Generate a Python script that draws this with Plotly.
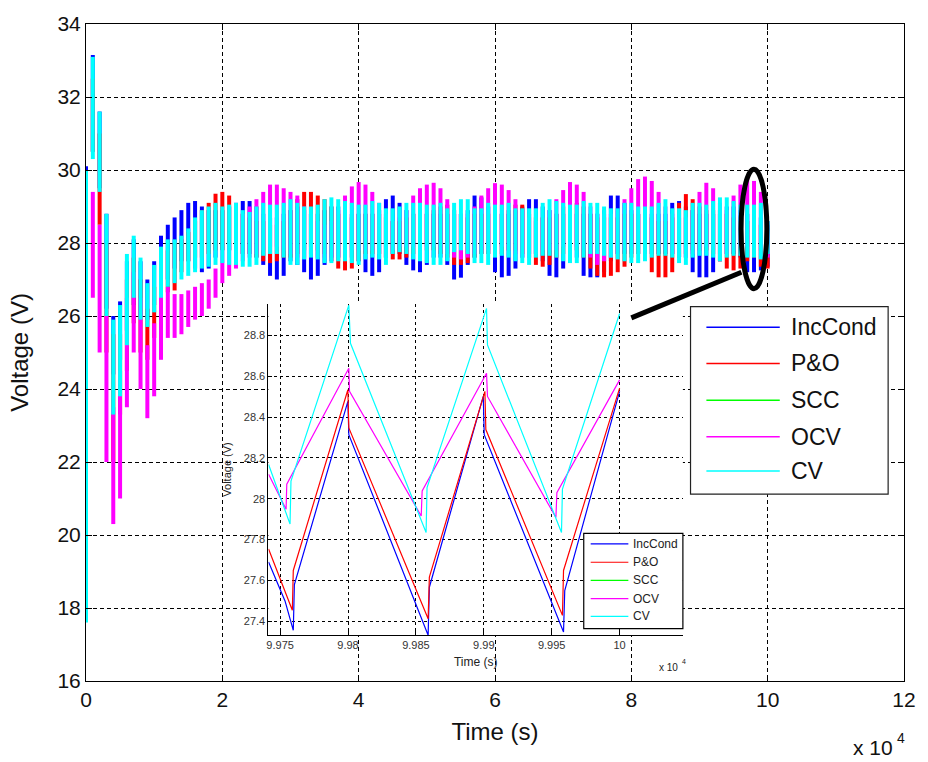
import plotly.graph_objects as go

# ---------------- data ----------------
# main plot: time windows (s), and per-window min / max of each signal (V)
t_main = [k * 1000 for k in range(101)]

cv_hi = [30.0, 33.1, 31.6, 28.8, 25.9, 26.3, 27.7, 28.2, 27.6, 26.9,
         27.4, 27.9, 28.1, 28.1, 28.2, 28.4, 28.7, 28.9, 29.0, 29.1,
         29.0, 29.05, 29.1, 28.9, 28.85, 29.0, 29.1, 29.05, 29.05, 29.1,
         29.2, 29.1, 29.0, 29.0, 29.05, 29.2, 29.25, 29.2, 29.15, 29.1,
         29.05, 29.05, 29.15, 29.1, 28.95, 28.95, 29.0, 29.1, 29.1, 29.1,
         29.05, 29.05, 29.1, 28.95, 29.1, 29.2, 29.2, 28.95, 28.95, 29.1,
         29.05, 29.05, 29.1, 28.95, 28.95, 28.95, 28.95, 29.1, 29.2, 29.15,
         29.1, 29.05, 29.05, 29.15, 29.1, 29.1, 29.0, 28.95, 28.95, 29.1,
         29.1, 29.0, 29.0, 29.0, 29.1, 29.2, 28.95, 28.95, 28.9, 29.1,
         29.1, 29.05, 29.15, 29.25, 29.25, 29.15, 29.05, 29.05, 29.05, 29.1,
         28.6]
cv_lo = [17.6, 30.3, 29.4, 26.0, 23.3, 23.8, 25.2, 26.5, 25.9, 25.7,
         26.1, 26.5, 26.8, 26.9, 27.0, 27.1, 27.2, 27.3, 27.35, 27.4,
         27.45, 27.4, 27.4, 27.35, 27.35, 27.4, 27.65, 27.7, 27.7, 27.6,
         27.4, 27.4, 27.55, 27.6, 27.55, 27.45, 27.45, 27.5, 27.5, 27.45,
         27.4, 27.55, 27.6, 27.55, 27.4, 27.7, 27.75, 27.7, 27.55, 27.5,
         27.45, 27.4, 27.4, 27.5, 27.75, 27.8, 27.7, 27.45, 27.45, 27.4,
         27.6, 27.65, 27.6, 27.5, 27.45, 27.4, 27.6, 27.65, 27.65, 27.6,
         27.5, 27.45, 27.45, 27.6, 27.7, 27.7, 27.65, 27.6, 27.55, 27.5,
         27.45, 27.45, 27.5, 27.6, 27.65, 27.65, 27.6, 27.45, 27.4, 27.6,
         27.65, 27.65, 27.6, 27.5, 27.6, 27.65, 27.65, 27.6, 27.6, 27.55,
         27.7]

inc_hi = [30.1, 33.15, 31.6, 28.8, 26.0, 26.4, 27.5, 28.1, 27.5, 27.0,
          27.5, 28.2, 28.5, 28.7, 28.9, 29.1, 29.15, 29.0, 28.9, 28.9,
          28.9, 29.0, 29.1, 29.15, 29.15, 29.0, 28.8, 28.7, 28.7, 28.8,
          28.9, 29.0, 28.9, 28.8, 28.8, 28.9, 29.0, 29.0, 28.9, 28.8,
          28.8, 28.8, 28.8, 28.9, 29.2, 29.3, 29.1, 28.9, 28.8, 28.8,
          28.8, 28.8, 28.8, 28.8, 28.8, 28.8, 28.9, 29.3, 29.25, 29.0,
          28.9, 28.8, 28.8, 28.9, 29.0, 29.2, 29.2, 29.0, 28.9, 28.8,
          28.8, 28.8, 28.8, 28.8, 28.8, 28.8, 28.9, 29.3, 29.3, 29.1,
          28.9, 28.8, 28.8, 28.8, 28.8, 28.8, 29.1, 29.15, 29.0, 28.9,
          28.8, 28.8, 28.8, 28.9, 29.0, 29.0, 28.9, 28.8, 28.7, 28.7,
          28.5]
inc_lo = [24.0, 30.5, 29.5, 26.2, 24.4, 24.8, 25.6, 26.3, 26.0, 25.9,
          26.3, 26.8, 27.0, 27.3, 27.5, 27.5, 27.3, 27.2, 27.3, 27.6,
          27.8, 27.8, 27.7, 27.7, 27.7, 27.6, 27.4, 27.1, 27.0, 27.1,
          27.5, 27.4, 27.2, 27.0, 27.1, 27.4, 27.6, 27.6, 27.7, 27.6,
          27.5, 27.2, 27.1, 27.2, 27.6, 27.7, 27.7, 27.4, 27.25, 27.2,
          27.4, 27.6, 27.6, 27.4, 27.0, 27.05, 27.4, 27.6, 27.7, 27.7,
          27.2, 27.06, 27.1, 27.3, 27.6, 27.7, 27.7, 27.5, 27.1, 27.06,
          27.3, 27.5, 27.6, 27.1, 27.06, 27.06, 27.2, 27.5, 27.7, 27.7,
          27.7, 27.7, 27.7, 27.7, 27.7, 27.7, 27.7, 27.6, 27.6, 27.2,
          27.06, 27.06, 27.2, 27.5, 27.7, 27.7, 27.6, 27.2, 27.2, 27.25,
          27.35]

po_hi = [30.0, 32.5, 31.0, 28.0, 25.5, 25.5, 27.0, 27.6, 27.0, 26.2,
         26.8, 27.4, 27.8, 28.0, 28.1, 28.3, 28.6, 28.9, 29.1, 29.35,
         29.4, 29.3, 28.9, 28.8, 28.7, 28.6, 28.6, 28.5, 28.5, 28.6,
         28.9, 29.2, 29.4, 29.4, 29.3, 29.2, 29.0, 28.8, 28.7, 28.7,
         28.8, 28.8, 28.8, 28.8, 28.7, 28.6, 28.6, 28.7, 28.8, 28.8,
         28.8, 28.9, 29.0, 29.05, 28.9, 28.8, 28.7, 28.8, 28.8, 28.8,
         28.8, 28.8, 28.9, 29.05, 29.05, 28.8, 28.7, 28.7, 28.7, 28.8,
         29.0, 29.1, 29.1, 29.0, 28.8, 28.7, 28.7, 28.7, 28.7, 28.8,
         28.8, 28.8, 28.8, 28.7, 28.6, 28.6, 28.7, 29.1, 29.34, 29.2,
         29.0, 28.9, 28.9, 28.8, 28.8, 28.7, 28.6, 28.6, 28.6, 28.5,
         27.9]
po_lo = [23.0, 30.5, 28.5, 25.0, 22.0, 23.3, 24.5, 25.8, 25.0, 24.8,
         25.4, 26.2, 26.65, 26.7, 27.2, 27.5, 27.6, 27.6, 27.7, 27.8,
         27.8, 27.8, 27.8, 27.7, 27.7, 27.6, 27.5, 27.45, 27.5, 27.6,
         27.6, 27.7, 27.8, 27.9, 27.8, 27.7, 27.5, 27.3, 27.25, 27.3,
         27.5, 27.7, 27.7, 27.7, 27.6, 27.55, 27.55, 27.6, 27.7, 27.8,
         27.8, 27.8, 27.7, 27.6, 27.4, 27.4, 27.45, 27.6, 27.7, 27.7,
         27.7, 27.7, 27.8, 27.8, 27.7, 27.6, 27.4, 27.35, 27.4, 27.6,
         27.7, 27.8, 27.8, 27.6, 27.3, 27.1, 27.06, 27.1, 27.2, 27.35,
         27.6, 27.7, 27.7, 27.2, 27.06, 27.06, 27.2, 27.6, 27.7, 27.8,
         27.8, 27.8, 27.7, 27.5, 27.3, 27.25, 27.3, 27.5, 27.6, 27.35,
         27.3]

ocv_hi = [28.3, 29.4, 28.5, 26.0, 23.5, 24.5, 26.5, 27.2, 26.5, 25.2,
          25.8, 26.6, 26.8, 26.6, 26.6, 26.7, 26.8, 26.9, 27.0, 27.3,
          27.8, 28.0, 28.4, 28.8, 29.0, 29.2, 29.4, 29.6, 29.6, 29.5,
          29.4, 29.3, 29.0, 28.8, 28.6, 28.5, 28.6, 28.9, 29.3, 29.55,
          29.67, 29.6, 29.4, 29.1, 28.8, 28.6, 28.7, 28.9, 29.3, 29.5,
          29.6, 29.65, 29.5, 29.2, 28.9, 28.8, 28.8, 29.0, 29.3, 29.5,
          29.64, 29.6, 29.45, 29.2, 28.9, 28.7, 28.6, 28.7, 28.9, 29.2,
          29.45, 29.67, 29.6, 29.4, 29.0, 28.8, 28.8, 28.8, 28.9, 29.2,
          29.5, 29.75, 29.82, 29.7, 29.4, 29.0, 28.8, 28.7, 28.7, 28.9,
          29.4, 29.65, 29.5, 29.1, 28.9, 29.3, 29.6, 29.79, 29.7, 29.4,
          28.6]
ocv_lo = [20.3, 26.5, 25.0, 22.0, 20.3, 21.0, 23.5, 25.0, 24.0, 23.2,
          23.8, 24.8, 25.4, 25.4, 25.5, 25.7, 25.9, 26.0, 26.2, 26.5,
          26.9, 27.1, 27.3, 27.5, 27.6, 27.7, 27.8, 27.9, 27.9, 27.8,
          27.7, 27.6, 27.6, 27.7, 27.6, 27.6, 27.5, 27.6, 27.7, 27.8,
          27.8, 27.8, 27.8, 27.7, 27.6, 27.8, 27.9, 27.9, 27.9, 27.9,
          27.9, 27.9, 27.8, 27.7, 27.6, 27.55, 27.6, 27.7, 27.8, 27.8,
          27.9, 27.9, 27.8, 27.7, 27.6, 27.6, 27.7, 27.8, 27.8, 27.8,
          27.9, 27.9, 27.9, 27.8, 27.6, 27.4, 27.5, 27.6, 27.7, 27.8,
          27.9, 28.0, 28.0, 28.0, 27.9, 27.8, 27.7, 27.6, 27.6, 27.7,
          27.8, 27.9, 27.8, 27.7, 27.7, 27.8, 27.9, 27.9, 27.9, 27.8,
          27.6]

# inset (zoom of the last 260 s)
inc_t = [99741.5, 99753.6, 99759.7, 99760.5, 99799.9, 99800.6, 99859.0,
         99859.9, 99899.6, 99900.3, 99958.7, 99959.6, 100000.0]
inc_v = [27.69, 27.50, 27.356, 27.58, 28.477, 28.314, 27.332,
         27.567, 28.501, 28.314, 27.348, 27.551, 28.526]
po_t = [99741.5, 99759.0, 99759.7, 99799.9, 99800.6, 99859.0, 99859.9,
        99900.8, 99901.5, 99957.9, 99958.7, 100000.0]
po_v = [27.754, 27.454, 27.649, 28.534, 28.347, 27.413, 27.616,
        28.526, 28.339, 27.429, 27.649, 28.542]
ocv_t = [99741.5, 99754.4, 99754.9, 99800.6, 99801.1, 99853.9, 99854.6,
         99902.0, 99902.7, 99953.1, 99953.8, 100000.0]
ocv_v = [28.120, 27.949, 28.071, 28.639, 28.526, 27.916, 28.038,
         28.615, 28.501, 27.908, 28.030, 28.582]
cv_t = [99741.5, 99757.3, 99758.0, 99800.6, 99801.8, 99857.5, 99858.2,
        99902.0, 99902.7, 99957.2, 99957.9, 100000.0]
cv_v = [28.168, 27.876, 28.087, 28.948, 28.761, 27.835, 28.055,
        28.932, 28.753, 27.835, 28.047, 28.907]

series_names = ["IncCond", "P&O", "SCC", "OCV", "CV"]
series_colors = ["#0000FF", "#FF0000", "#00FF00", "#FF00FF", "#00FFFF"]

main_x_ticks = [0, 20000, 40000, 60000, 80000, 100000, 120000]
main_x_labels = ["0", "2", "4", "6", "8", "10", "12"]
main_y_ticks = [16, 18, 20, 22, 24, 26, 28, 30, 32, 34]
ins_x_ticks = [99750, 99800, 99850, 99900, 99950, 100000]
ins_x_labels = ["9.975", "9.98", "9.985", "9.99", "9.995", "10"]
ins_y_ticks = [27.4, 27.6, 27.8, 28.0, 28.2, 28.4, 28.6, 28.8]
ins_y_labels = ["27.4", "27.6", "27.8", "28", "28.2", "28.4", "28.6", "28.8"]

# ---------------- layout helpers ----------------
W, H = 928, 762
ML, MR, MT, MB = 86, 17, 21, 81
PW, PH = W - ML - MR, H - MT - MB
FONT = "Liberation Sans, Arial, sans-serif"


def px(p):
    return (p - ML) / PW


def py(p):
    return (H - MB - p) / PH


def stripes(ts, lo, hi):
    xs, ys = [], []
    for t, a, b in zip(ts, lo, hi):
        xs += [t, t, None]
        ys += [a, b, None]
    return xs, ys


fig = go.Figure()

main_series = [(inc_lo, inc_hi, 0), (po_lo, po_hi, 1), (ocv_lo, ocv_hi, 3), (cv_lo, cv_hi, 4)]
for lo, hi, ci in main_series:
    xs, ys = stripes(t_main, lo, hi)
    fig.add_trace(go.Scatter(x=xs, y=ys, mode="lines", name=series_names[ci],
                             line=dict(color=series_colors[ci], width=4),
                             showlegend=False, hoverinfo="skip", connectgaps=False))

inset_series = [(inc_t, inc_v, 0), (po_t, po_v, 1), (ocv_t, ocv_v, 3), (cv_t, cv_v, 4)]
for ts, vs, ci in inset_series:
    fig.add_trace(go.Scatter(x=ts, y=vs, mode="lines", name=series_names[ci],
                             line=dict(color=series_colors[ci], width=1.2),
                             xaxis="x3", yaxis="y3", showlegend=False, hoverinfo="skip"))

grid_main = "4px,3px"
axis_common = dict(showline=True, linecolor="black", linewidth=1, mirror="ticks",
                   ticks="inside", ticklen=6, tickcolor="black", showgrid=True,
                   gridcolor="black", gridwidth=1, griddash=grid_main, zeroline=False,
                   tickfont=dict(size=21, color="#111", family=FONT))
inset_common = dict(showline=True, linecolor="black", linewidth=1, mirror=False,
                    ticks="inside", ticklen=4, tickcolor="black", showgrid=True,
                    gridcolor="black", gridwidth=1, griddash="3px,3px", zeroline=False,
                    tickfont=dict(size=11, color="#333", family=FONT))

fig.update_layout(
    width=W, height=H, autosize=False,
    margin=dict(l=ML, r=MR, t=MT, b=MB),
    paper_bgcolor="white", plot_bgcolor="white",
    font=dict(family=FONT, color="#111"),
    showlegend=False,
    xaxis=dict(range=[0, 120000], tickmode="array", tickvals=main_x_ticks,
               ticktext=main_x_labels,
               title=dict(text="Time (s)", standoff=12,
                          font=dict(size=24, color="#111", family=FONT)),
               **axis_common),
    yaxis=dict(range=[16, 34], tickmode="array", tickvals=main_y_ticks,
               title=dict(text="Voltage (V)", standoff=22,
                          font=dict(size=24, color="#111", family=FONT)),
               **axis_common),
    # white cover under the inset (hides main grid around the inset labels)
    xaxis2=dict(domain=[px(218), px(695)], anchor="y2", visible=False, range=[0, 1],
                showgrid=False, zeroline=False),
    yaxis2=dict(domain=[py(670), py(293)], anchor="x2", visible=False, range=[0, 1],
                showgrid=False, zeroline=False),
    xaxis3=dict(domain=[px(270), px(688)], anchor="y3", range=[99741.4, 100046.6],
                tickmode="array", tickvals=ins_x_ticks, ticktext=ins_x_labels,
                title=dict(text="Time (s)", standoff=7,
                           font=dict(size=12, color="#222", family=FONT)),
                **inset_common),
    yaxis3=dict(domain=[py(635), py(302)], anchor="x3", range=[27.332, 28.955],
                tickmode="array", tickvals=ins_y_ticks, ticktext=ins_y_labels,
                title=dict(text="Voltage (V)", standoff=9,
                           font=dict(size=11, color="#222", family=FONT)),
                **inset_common),
)

shapes = []
annotations = []

# callout ellipse and pointer line (main axes coordinates)
shapes.append(dict(type="circle", xref="x", yref="y", x0=96100, x1=99880, y0=26.75, y1=30.02,
                   line=dict(color="black", width=5), layer="above"))
shapes.append(dict(type="line", xref="x", yref="y", x0=80000, y0=25.95, x1=96150, y1=27.2,
                   line=dict(color="black", width=5), layer="above"))

# main legend
shapes.append(dict(type="rect", xref="paper", yref="paper", x0=px(695.7), x1=px(895),
                   y0=py(493.3), y1=py(305), fillcolor="white",
                   line=dict(color="#222", width=1.2), layer="above"))
leg_y = [325.7, 362, 399, 435.7, 470]
for name, col, yy in zip(series_names, series_colors, leg_y):
    shapes.append(dict(type="line", xref="paper", yref="paper", x0=px(711.7), x1=px(785.7),
                       y0=py(yy), y1=py(yy), line=dict(color=col, width=1.5), layer="above"))
    annotations.append(dict(text=name, xref="paper", yref="paper", x=px(795), y=py(yy),
                            xanchor="left", yanchor="middle", showarrow=False,
                            font=dict(size=23, color="#111", family=FONT)))

# inset legend
shapes.append(dict(type="rect", xref="paper", yref="paper", x0=px(588), x1=px(688),
                   y0=py(628.3), y1=py(532.7), fillcolor="white",
                   line=dict(color="black", width=1.2), layer="above"))
ileg_y = [543.3, 561.7, 580, 598.3, 616]
for name, col, yy in zip(series_names, series_colors, ileg_y):
    shapes.append(dict(type="line", xref="paper", yref="paper", x0=px(595), x1=px(633),
                       y0=py(yy), y1=py(yy), line=dict(color=col, width=1.2), layer="above"))
    annotations.append(dict(text=name, xref="paper", yref="paper", x=px(636), y=py(yy),
                            xanchor="left", yanchor="middle", showarrow=False,
                            font=dict(size=12, color="#222", family=FONT)))

# axis multipliers (x 10^4), exponent drawn as its own small text
annotations += [
    dict(text="x 10", xref="paper", yref="paper", x=px(902), y=py(748),
         showarrow=False, xanchor="right", yanchor="middle",
         font=dict(size=21, color="#111", family=FONT)),
    dict(text="4", xref="paper", yref="paper", x=px(902), y=py(738),
         showarrow=False, xanchor="left", yanchor="middle",
         font=dict(size=14, color="#111", family=FONT)),
    dict(text="x 10", xref="paper", yref="paper", x=px(685), y=py(667),
         showarrow=False, xanchor="right", yanchor="middle",
         font=dict(size=10, color="#222", family=FONT)),
    dict(text="4", xref="paper", yref="paper", x=px(685), y=py(661),
         showarrow=False, xanchor="left", yanchor="middle",
         font=dict(size=7, color="#222", family=FONT)),
]

fig.update_layout(shapes=shapes, annotations=annotations)

fig.write_html("out.html", config={"displayModeBar": False},
               post_script="document.body.style.margin='0px';")
